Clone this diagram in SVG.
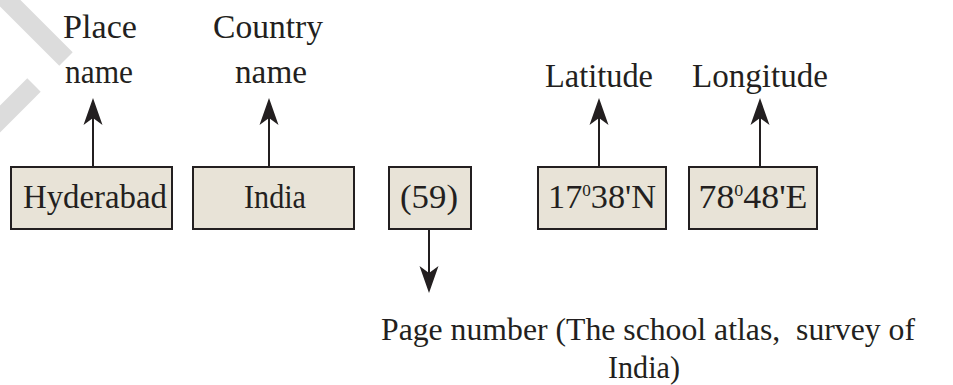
<svg xmlns="http://www.w3.org/2000/svg" width="953" height="385" viewBox="0 0 953 385">
<style>
.bg{fill:#ffffff}
.wm{stroke:#dcdcdc;stroke-width:19;fill:none;stroke-linecap:butt}
.box{fill:#e8e3d7;stroke:#231f20;stroke-width:2}
.t{font-family:"Liberation Serif","Times New Roman",serif;font-size:34px;fill:#231f20;text-anchor:middle}
.s{font-size:32px}
.sup{font-size:17px}
.ln{stroke:#231f20;stroke-width:2;fill:none}
</style>
<defs>
<marker id="ah" markerUnits="userSpaceOnUse" orient="auto" markerWidth="40" markerHeight="30" refX="0" refY="0" viewBox="-20 -15 40 30" overflow="visible">
<path d="M10,0 L-17,-9.5 L-10,0 L-17,9.5 Z" fill="#231f20"/>
</marker>
</defs>
<rect class="bg" x="0" y="0" width="953" height="385"/>
<g id="watermark">
<line class="wm" x1="66" y1="59" x2="-10" y2="-17"/>
<line class="wm" x1="34" y1="85" x2="-22" y2="141"/>
</g>
<g id="connectors">
<line class="ln" x1="93" y1="167" x2="93" y2="108" marker-end="url(#ah)"/>
<line class="ln" x1="269" y1="167" x2="269" y2="108" marker-end="url(#ah)"/>
<line class="ln" x1="599" y1="167" x2="599" y2="108" marker-end="url(#ah)"/>
<line class="ln" x1="760" y1="167" x2="760" y2="108" marker-end="url(#ah)"/>
<line class="ln" x1="429" y1="229" x2="429" y2="283" marker-end="url(#ah)"/>
</g>
<g id="label-place">
<text class="t" x="100" y="38" textLength="74" lengthAdjust="spacingAndGlyphs">Place</text>
<text class="t" x="99" y="83" textLength="68" lengthAdjust="spacingAndGlyphs">name</text>
</g>
<g id="label-country">
<text class="t" x="268" y="38" textLength="110" lengthAdjust="spacingAndGlyphs">Country</text>
<text class="t" x="271" y="83" textLength="72" lengthAdjust="spacingAndGlyphs">name</text>
</g>
<g id="label-latitude">
<text class="t" x="599" y="87" textLength="108" lengthAdjust="spacingAndGlyphs">Latitude</text>
</g>
<g id="label-longitude">
<text class="t" x="760" y="87" textLength="136" lengthAdjust="spacingAndGlyphs">Longitude</text>
</g>
<g id="node-hyderabad">
<rect class="box" x="11" y="167" width="161" height="62"/>
<text class="t" x="95" y="208" textLength="144" lengthAdjust="spacingAndGlyphs">Hyderabad</text>
</g>
<g id="node-india">
<rect class="box" x="193" y="167" width="161" height="62"/>
<text class="t" x="275" y="208" textLength="62" lengthAdjust="spacingAndGlyphs">India</text>
</g>
<g id="node-page">
<rect class="box" x="389" y="167" width="82" height="62"/>
<text class="t" x="429" y="208" textLength="58" lengthAdjust="spacingAndGlyphs">(59)</text>
</g>
<g id="node-lat">
<rect class="box" x="538" y="167" width="128" height="62"/>
<text class="t" x="602" y="208" textLength="108" lengthAdjust="spacingAndGlyphs">17<tspan class="sup" dy="-12">0</tspan><tspan dy="12">38'N</tspan></text>
</g>
<g id="node-lon">
<rect class="box" x="689" y="167" width="128" height="62"/>
<text class="t" x="753" y="208" textLength="109" lengthAdjust="spacingAndGlyphs">78<tspan class="sup" dy="-12">0</tspan><tspan dy="12">48'E</tspan></text>
</g>
<g id="label-page-number">
<text class="t s" x="648" y="340" textLength="534" lengthAdjust="spacingAndGlyphs" xml:space="preserve">Page number (The school atlas,  survey of</text>
<text class="t s" x="644" y="378" textLength="72" lengthAdjust="spacingAndGlyphs">India)</text>
</g>
</svg>
